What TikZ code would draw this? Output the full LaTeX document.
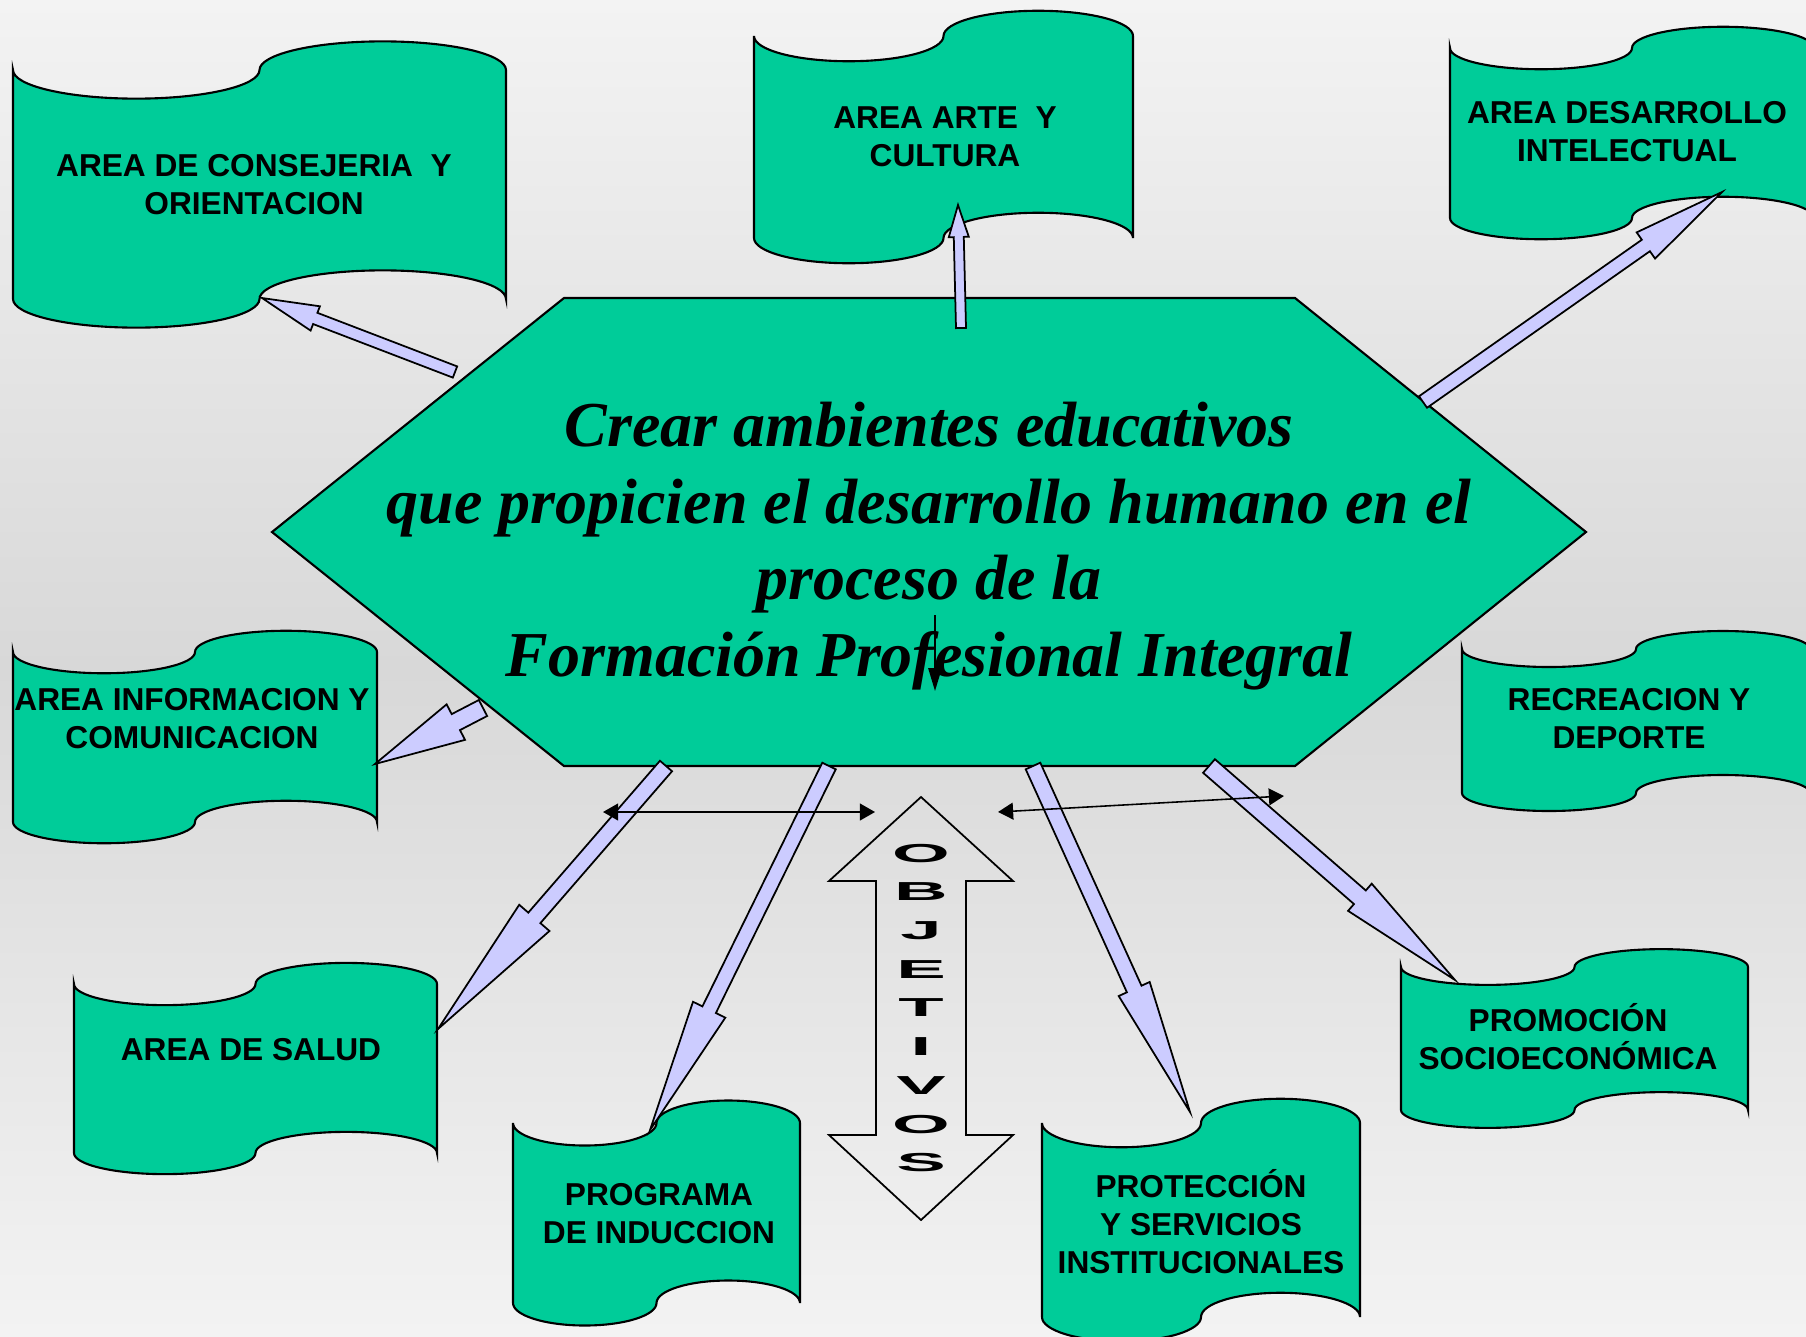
\documentclass[tikz,border=0pt]{standalone}
\usepackage{fontspec}
\setmainfont{Liberation Serif}
\setsansfont{Liberation Sans}
\usetikzlibrary{calc,arrows.meta}
\definecolor{verde}{HTML}{00CC99}
\definecolor{lavanda}{HTML}{CCCCFF}
\definecolor{fondoclaro}{HTML}{F3F3F3}
\definecolor{fondoscuro}{HTML}{D8D8D8}
\tikzset{
    every node/.style={inner sep=0pt, outer sep=0pt}
}
\tikzset{
    rotulo/.style={font=\sffamily\bfseries\fontsize{9}{10.8}\selectfont, align=center},
    lema/.style={font=\bfseries\itshape\fontsize{18.2}{21.8}\selectfont, align=center},
    letras/.style={font=\sffamily\bfseries\fontsize{7.4}{11}\selectfont, align=center, xscale=2.85},
    bandera/.style={fill=verde, draw=black, line width=0.6pt},
    hexagono/.style={fill=verde, draw=black, line width=0.6pt},
    bloque/.style={fill=lavanda, draw=black, line width=0.5pt, line join=miter},
    doble/.style={line width=0.45pt, {Triangle[length=4.3pt,width=4.8pt]}-{Triangle[length=4.3pt,width=4.8pt]}},
    simple/.style={line width=0.45pt, -{Triangle[length=6.5pt,width=3.8pt]}}
}
\newcommand{\bandera}[4]{%
    \pgfmathsetmacro{\ra}{(#3-#1)/4}%
    \pgfmathsetmacro{\rd}{(#4-#2)/8}%
    \draw[bandera] (#1,#2)
        arc[start angle=180, end angle=0, x radius=\ra, y radius=\rd]
        arc[start angle=180, end angle=360, x radius=\ra, y radius=\rd]
        -- (#3,#4)
        arc[start angle=360, end angle=180, x radius=\ra, y radius=\rd]
        arc[start angle=0, end angle=180, x radius=\ra, y radius=\rd]
        -- cycle;}
\newcommand{\flecha}[5]{%
    \draw[bloque] ($(#1)!#3!90:(#2)$)
        -- ($(#2)!#5!(#1)!#3!-90:(#1)$)
        -- ($(#2)!#5!(#1)!#4!-90:(#1)$)
        -- (#2)
        -- ($(#2)!#5!(#1)!#4!90:(#1)$)
        -- ($(#2)!#5!(#1)!#3!90:(#1)$)
        -- ($(#1)!#3!-90:(#2)$) -- cycle;}

\begin{document}
\begin{tikzpicture}[x=0.01cm, y=-0.01cm]
	\useasboundingbox (0,0) rectangle (1806,1336);
	\clip (0,0) rectangle (1806,1336);
	\shade[top color=fondoclaro, bottom color=fondoclaro, middle color=fondoscuro] (0,0) rectangle (1806,1336);

	\bandera{13}{70}{506}{299}
	\bandera{754}{36}{1133}{238}
	\bandera{1450}{48}{1814}{218}
	\bandera{13}{652}{377}{822}
	\bandera{1462}{649}{1810}{793}
	\bandera{74}{984}{437}{1153}
	\bandera{513}{1123}{800}{1303}
	\bandera{1042}{1123}{1360}{1317}
	\bandera{1401}{967}{1748}{1110}

	\draw[hexagono] (564,298) -- (1295,298) -- (1586,532) -- (1295,766) -- (564,766) -- (272,532) -- cycle;

	\node (meta) [lema] at (929,546) {Crear ambientes educativos\\que propicien el desarrollo humano en el\\proceso de la\\Formación Profesional Integral};
	\node (consejeria) [rotulo] at (254,185) {AREA DE CONSEJERIA\ \ Y\\ORIENTACION};
	\node (arte) [rotulo] at (945,137) {AREA ARTE\ \ Y\\CULTURA};
	\node (desarrollo) [rotulo] at (1627,132) {AREA DESARROLLO\\INTELECTUAL};
	\node (informacion) [rotulo] at (192,719) {AREA INFORMACION Y\\COMUNICACION};
	\node (recreacion) [rotulo] at (1629,719) {RECREACION Y\\DEPORTE};
	\node (salud) [rotulo] at (251,1050) {AREA DE SALUD};
	\node (induccion) [rotulo] at (659,1214) {PROGRAMA\\DE INDUCCION};
	\node (proteccion) [rotulo] at (1201,1222) {PROTECCIÓN\\Y SERVICIOS\\INSTITUCIONALES};
	\node (promocion) [rotulo] at (1568,1037) {PROMOCIÓN\\SOCIOECONÓMICA};

	\coordinate (s1) at (455,372); \coordinate (t1) at (262,298);
	\coordinate (s2) at (961,328); \coordinate (t2) at (958,205);
	\coordinate (s3) at (1423,402); \coordinate (t3) at (1722,192);
	\coordinate (s4) at (483,708); \coordinate (t4) at (375,764);
	\coordinate (s5) at (666,766); \coordinate (t5) at (438,1029);
	\coordinate (s6) at (829,766); \coordinate (t6) at (650,1130);
	\coordinate (s7) at (1033,766); \coordinate (t7) at (1190,1112);
	\coordinate (s8) at (1209,766); \coordinate (t8) at (1455,980);

	\flecha{s1}{t1}{0.06cm}{0.13cm}{0.57cm}
	\flecha{s2}{t2}{0.05cm}{0.10cm}{0.32cm}
	\flecha{s3}{t3}{0.07cm}{0.16cm}{0.93cm}
	\flecha{s4}{t4}{0.09cm}{0.20cm}{0.91cm}
	\flecha{s5}{t5}{0.08cm}{0.20cm}{1.47cm}
	\flecha{s6}{t6}{0.075cm}{0.18cm}{1.34cm}
	\flecha{s7}{t7}{0.08cm}{0.17cm}{1.35cm}
	\flecha{s8}{t8}{0.09cm}{0.18cm}{1.26cm}

	\coordinate (i1) at (603,812); \coordinate (i2) at (875,812);
	\coordinate (d1) at (998,812); \coordinate (d2) at (1284,796);
	\coordinate (p1) at (935,615); \coordinate (p2) at (935,691);
	\draw[doble] (i1) -- (i2);
	\draw[doble] (d1) -- (d2);
	\draw[simple] (p1) -- (p2);

	\draw[line width=0.5pt] (921,797) -- (1013,881) -- (966,881) -- (966,1135) -- (1013,1135) -- (921,1220)
		-- (829,1135) -- (876,1135) -- (876,881) -- (829,881) -- cycle;
	\node (objetivos) [letras] at (921,1008) {O\\B\\J\\E\\T\\I\\V\\O\\S};
\end{tikzpicture}
\end{document}
